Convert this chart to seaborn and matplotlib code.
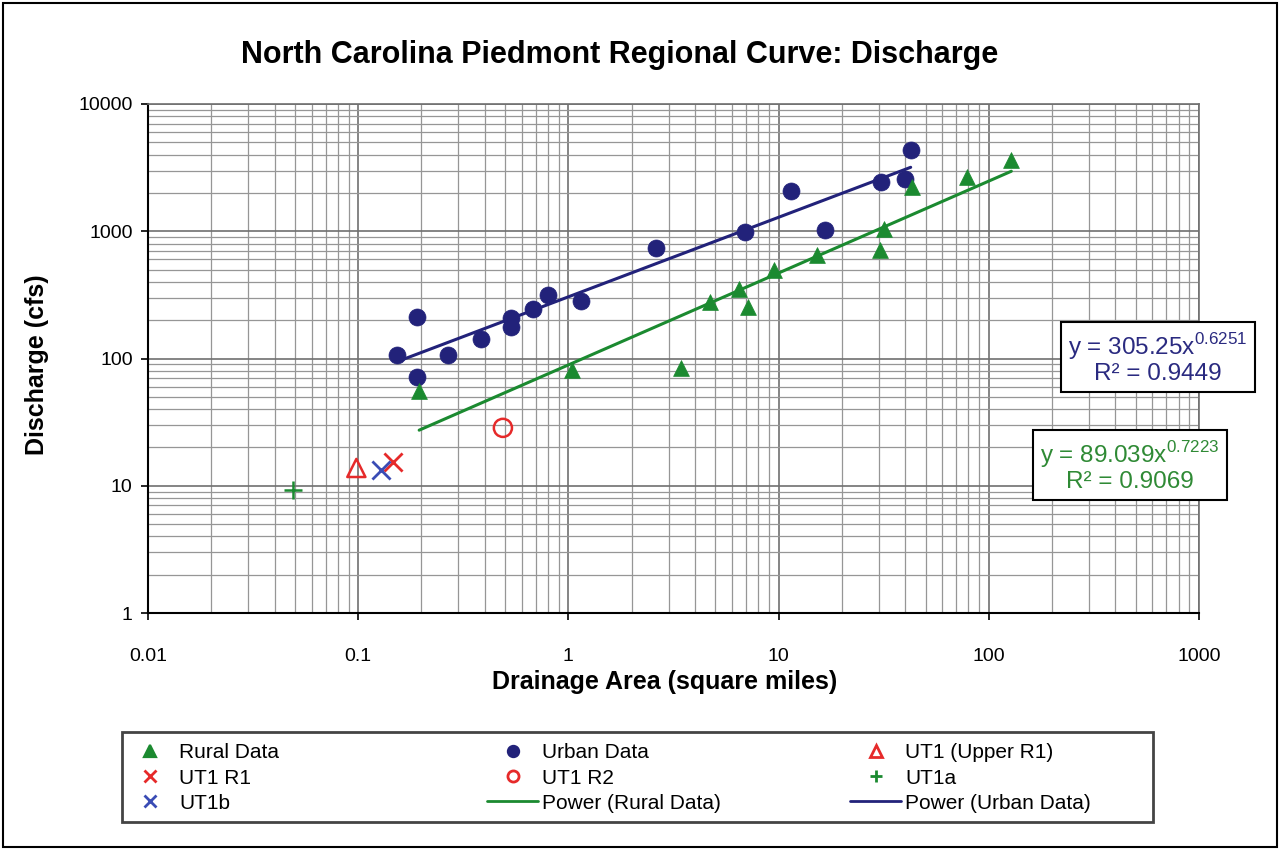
import numpy as np
import pandas as pd
import matplotlib
matplotlib.use("Agg")
import matplotlib.pyplot as plt
from matplotlib.ticker import FixedLocator, FixedFormatter, LogLocator, NullFormatter
from matplotlib.lines import Line2D
from matplotlib.patches import Rectangle
import seaborn as sns

# ---------------- data ----------------
rural_area = [0.195, 1.04, 3.42, 4.7, 6.46, 7.13, 9.48, 15.3, 30.3, 31.6, 42.9, 78.4, 128]
rural_q = [56, 81, 84, 278, 352, 254, 497, 652, 713, 1042, 2230, 2670, 3630]

urban_area = [0.153, 0.19, 0.19, 0.267, 0.383, 0.532, 0.532, 0.678, 0.798, 1.15,
              2.6, 6.9, 11.5, 16.6, 30.6, 39.8, 42.5]
urban_q = [107, 212, 72, 107, 143, 208, 177, 245, 316, 283,
           740, 988, 2075, 1023, 2440, 2575, 4350]

ut1_upper = (0.098, 13.8)
ut1_r1 = (0.146, 15.4)
ut1_r2 = (0.488, 28.5)
ut1a = (0.049, 9.3)
ut1b = (0.128, 13.3)

rural_coef, rural_exp, rural_r2 = 89.039, 0.7223, 0.9069
urban_coef, urban_exp, urban_r2 = 305.25, 0.6251, 0.9449

xticks = [0.01, 0.1, 1, 10, 100, 1000]
xtick_labels = ["0.01", "0.1", "1", "10", "100", "1000"]
yticks = [1, 10, 100, 1000, 10000]
ytick_labels = ["1", "10", "100", "1000", "10000"]

title = "North Carolina Piedmont Regional Curve: Discharge"
xlabel = "Drainage Area (square miles)"
ylabel = "Discharge (cfs)"

# ---------------- style ----------------
sns.set_style("white")
plt.rcParams["font.family"] = ["Liberation Sans", "DejaVu Sans"]
plt.rcParams["text.color"] = "black"
plt.rcParams["axes.labelcolor"] = "black"
plt.rcParams["xtick.color"] = "black"
plt.rcParams["ytick.color"] = "black"

GREEN = "#1b8a30"
NAVY = "#22227a"
RED = "#e62a2a"
BLUE_X = "#3a4cb5"
EQ_GREEN = "#2f8a35"
EQ_NAVY = "#2a2a80"

W, H = 1280, 850
fig = plt.figure(figsize=(12.8, 8.5), dpi=100)
ax = fig.add_axes([148 / W, 1 - 613 / H, (1199 - 148) / W, (613 - 104) / H])

ax.set_xscale("log")
ax.set_yscale("log")
ax.set_xlim(0.01, 1000)
ax.set_ylim(1, 10000)

# grid
ax.xaxis.set_minor_locator(LogLocator(base=10, subs=np.arange(2, 10)))
ax.yaxis.set_minor_locator(LogLocator(base=10, subs=np.arange(2, 10)))
ax.xaxis.set_minor_formatter(NullFormatter())
ax.yaxis.set_minor_formatter(NullFormatter())
ax.grid(True, which="major", color="#707070", linewidth=1.2, zorder=0)
ax.grid(True, which="minor", color="#969696", linewidth=0.9, zorder=0)
ax.set_axisbelow(True)

# trend lines (from the displayed power-law equations)
rx = np.geomspace(min(rural_area), max(rural_area), 60)
ux = np.geomspace(min(urban_area), max(urban_area), 60)
rural_fit = pd.DataFrame({"x": rx, "y": rural_coef * rx ** rural_exp})
urban_fit = pd.DataFrame({"x": ux, "y": urban_coef * ux ** urban_exp})
sns.lineplot(data=urban_fit, x="x", y="y", ax=ax, color=NAVY, linewidth=2.2, zorder=3)
sns.lineplot(data=rural_fit, x="x", y="y", ax=ax, color=GREEN, linewidth=2.2, zorder=3)

# scatter
urban_df = pd.DataFrame({"x": urban_area, "y": urban_q})
rural_df = pd.DataFrame({"x": rural_area, "y": rural_q})
sns.scatterplot(data=urban_df, x="x", y="y", ax=ax, marker="o", s=150, color=NAVY,
                edgecolor=NAVY, linewidth=0.5, zorder=4)
sns.scatterplot(data=rural_df, x="x", y="y", ax=ax, marker="^", s=130, color=GREEN,
                edgecolor=GREEN, linewidth=0.5, zorder=4)

ax.scatter([ut1_upper[0]], [ut1_upper[1]], marker="^", s=170, facecolors="none",
           edgecolors=RED, linewidths=1.8, zorder=5)
ax.scatter([ut1_r1[0]], [ut1_r1[1]], marker="x", s=170, color=RED, linewidths=2.0, zorder=5)
ax.scatter([ut1_r2[0]], [ut1_r2[1]], marker="o", s=170, facecolors="none",
           edgecolors=RED, linewidths=1.8, zorder=5)
ax.scatter([ut1a[0]], [ut1a[1]], marker="+", s=170, color=GREEN, linewidths=1.8, zorder=5)
ax.scatter([ut1b[0]], [ut1b[1]], marker="x", s=170, color=BLUE_X, linewidths=2.0, zorder=5)

# ticks
ax.xaxis.set_major_locator(FixedLocator(xticks))
ax.xaxis.set_major_formatter(FixedFormatter(xtick_labels))
ax.yaxis.set_major_locator(FixedLocator(yticks))
ax.yaxis.set_major_formatter(FixedFormatter(ytick_labels))
ax.tick_params(axis="both", which="major", direction="out", length=5, width=1.2,
               color="black", labelsize=14, bottom=True, left=True)
ax.tick_params(axis="x", which="major", pad=20)
ax.tick_params(axis="y", which="major", pad=6)
ax.tick_params(which="minor", length=0)

for side in ["left", "bottom"]:
    ax.spines[side].set_color("black")
    ax.spines[side].set_linewidth(1.5)
for side in ["top", "right"]:
    ax.spines[side].set_color("#707070")
    ax.spines[side].set_linewidth(1.2)

ax.set_xlabel("")
ax.set_ylabel("")
fig.text(665 / W, 1 - 682 / H, xlabel, fontsize=18, fontweight="bold",
         ha="center", va="center")
fig.text(37 / W, 1 - 365 / H, ylabel, fontsize=18, fontweight="bold",
         ha="center", va="center", rotation=90)

fig.text(620 / W, 1 - 55 / H, title, fontsize=22, fontweight="bold",
         ha="center", va="center")

# equation boxes
fig.text(1158 / W, 1 - 358 / H,
         f"y = {urban_coef}x$^{{\\mathregular{{{urban_exp}}}}}$\nR² = {urban_r2}",
         color=EQ_NAVY, fontsize=17.5, ha="center", va="center", multialignment="center",
         linespacing=1.05,
         bbox=dict(boxstyle="square,pad=0.3", facecolor="white", edgecolor="black", linewidth=1.5),
         zorder=10)
fig.text(1130 / W, 1 - 466 / H,
         f"y = {rural_coef}x$^{{\\mathregular{{{rural_exp}}}}}$\nR² = {rural_r2}",
         color=EQ_GREEN, fontsize=17.5, ha="center", va="center", multialignment="center",
         linespacing=1.05,
         bbox=dict(boxstyle="square,pad=0.3", facecolor="white", edgecolor="black", linewidth=1.5),
         zorder=10)

# legend: three columns, each drawn as its own legend inside a common frame
def mk(marker, color, filled=True, mew=1.6):
    return Line2D([], [], linestyle="none", marker=marker, markersize=8,
                  markerfacecolor=color if filled else "none",
                  markeredgecolor=color, markeredgewidth=mew)

columns = [
    ([mk("^", GREEN), mk("x", RED, mew=2.0), mk("x", BLUE_X, mew=2.0)],
     ["Rural Data", "UT1 R1", "UT1b"], 124),
    ([mk("o", NAVY), mk("o", RED, filled=False, mew=2.0), Line2D([], [], color=GREEN, linewidth=2.0)],
     ["Urban Data", "UT1 R2", "Power (Rural Data)"], 487),
    ([mk("^", RED, filled=False, mew=2.0), mk("+", GREEN, mew=2.0), Line2D([], [], color=NAVY, linewidth=2.0)],
     ["UT1 (Upper R1)", "UT1a", "Power (Urban Data)"], 850),
]
for hs, ls, xleft in columns:
    lg = fig.legend(hs, ls, loc="center left", bbox_to_anchor=(xleft / W, 1 - 778 / H),
                    fontsize=15, frameon=False, handlelength=2.45, handletextpad=0.2,
                    borderpad=0.0, borderaxespad=0.0, labelspacing=0.3)

fig.patches.append(Rectangle((122 / W, 1 - 822 / H), (1153 - 122) / W, 90 / H,
                             transform=fig.transFigure, fill=False,
                             edgecolor="#444444", linewidth=2.0))

# outer border
fig.patches.append(Rectangle((0.002, 0.003), 0.996, 0.994, transform=fig.transFigure,
                             fill=False, edgecolor="black", linewidth=1.5))

fig.savefig("out.png", dpi=100)
